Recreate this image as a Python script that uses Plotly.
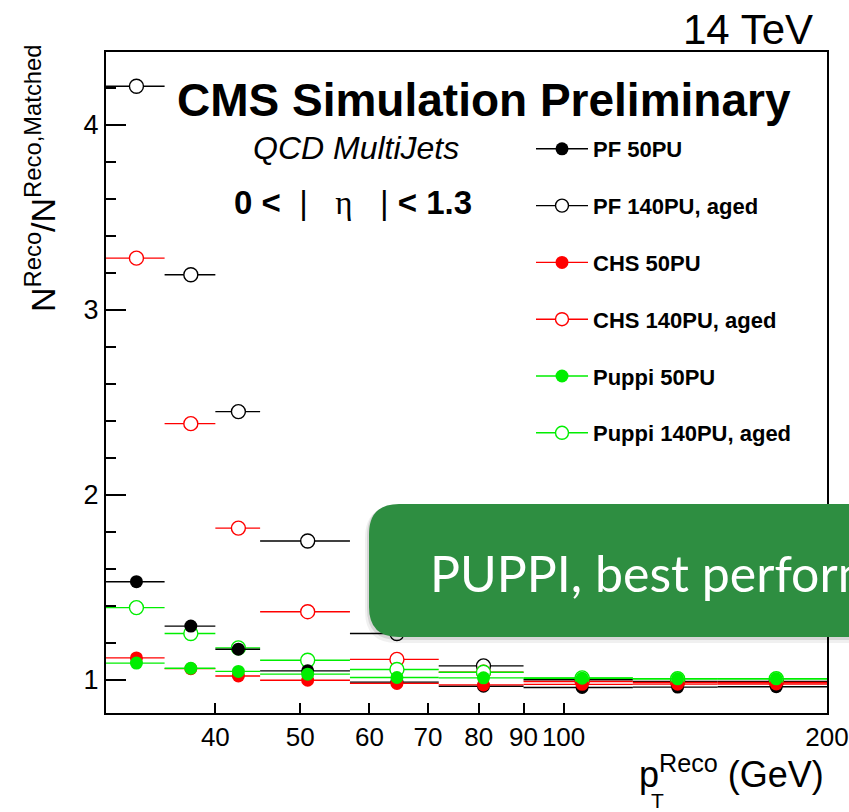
import plotly.graph_objects as go

# pT bin edges (GeV) and bin centres
pt_edges = [30, 35, 40, 45, 57, 72, 90, 120, 150, 200]
pt_center = [32.5, 37.5, 42.5, 51, 64.5, 81, 105, 135, 175]

# N^Reco / N^Reco,Matched per bin
pf_50 = [1.53, 1.29, 1.165, 1.048, 0.987, 0.965, 0.958, 0.96, 0.962]
pf_140 = [4.21, 3.19, 2.45, 1.75, 1.25, 1.075, 1.0, 0.99, 0.99]
chs_50 = [1.118, 1.06, 1.02, 0.997, 0.98, 0.972, 0.975, 0.976, 0.977]
chs_140 = [3.28, 2.385, 1.82, 1.368, 1.11, 1.04, 0.99, 0.985, 0.985]
puppi_50 = [1.09, 1.062, 1.045, 1.03, 1.012, 1.01, 1.008, 1.005, 1.005]
puppi_140 = [1.39, 1.25, 1.172, 1.105, 1.055, 1.04, 1.01, 1.005, 1.005]

x_ticks = [40, 50, 60, 70, 80, 90, 100, 200]

BLACK = "#000000"
RED = "#ff0000"
GREEN = "#00ee00"
FONT = "Liberation Sans, Arial, Helvetica, sans-serif"

err_plus = [hi - c for c, hi in zip(pt_center, pt_edges[1:])]
err_minus = [c - lo for c, lo in zip(pt_center, pt_edges[:-1])]

# (name, values, colour, filled, legend rank)
series = [
    ("PF 140PU, aged", pf_140, BLACK, False, 2),
    ("CHS 140PU, aged", chs_140, RED, False, 4),
    ("Puppi 140PU, aged", puppi_140, GREEN, False, 6),
    ("PF 50PU", pf_50, BLACK, True, 1),
    ("CHS 50PU", chs_50, RED, True, 3),
    ("Puppi 50PU", puppi_50, GREEN, True, 5),
]

fig = go.Figure()

for name, vals, col, filled, rank in series:
    marker = dict(size=13, color=col, line=dict(width=0)) if filled else \
        dict(size=14, color="white", symbol="circle", line=dict(width=1.4, color=col))
    fig.add_trace(go.Scatter(
        x=pt_center, y=vals, mode="markers", name=name, showlegend=False,
        marker=marker,
        error_x=dict(type="data", symmetric=False, array=err_plus, arrayminus=err_minus,
                     color=col, thickness=1.4, width=0),
    ))

# legend entries (line through marker)
for name, vals, col, filled, rank in series:
    marker = dict(size=13, color=col) if filled else \
        dict(size=13, color="white", line=dict(width=1.4, color=col))
    fig.add_trace(go.Scatter(
        x=[None], y=[None], mode="lines+markers", name=f"<b>{name}</b>", legendrank=rank,
        legendgroup=name, line=dict(color=col, width=1.4), marker=marker,
    ))

W, H = 849, 812
L, R, T, B = 106, 22, 52, 99
pw, ph = W - L - R, H - T - B


def px(x):
    return (x - L) / pw


def py(y):
    return (H - B - y) / ph


NB = "\u00a0"
eta_text = (f"<b>0{NB}<</b>{NB * 2}|{NB * 3}<span style='font-family:Liberation Serif'>η</span>"
            f"{NB * 3}|{NB}<b><{NB}1.3</b>")

annotations = [
    dict(text="<b>CMS Simulation Preliminary</b>", x=px(484), y=py(100),
         font=dict(size=46, family=FONT, color="black")),
    dict(text="<i>QCD MultiJets</i>", x=px(356), y=py(148),
         font=dict(size=32, family=FONT, color="black")),
    dict(text=eta_text, x=px(353), y=py(202),
         font=dict(size=33, family=FONT, color="black")),
    dict(text="14 TeV", x=px(815), y=py(30), xanchor="right",
         font=dict(size=42, family=FONT, color="black")),
    dict(text="N<sup>Reco</sup>/N<sup>Reco,Matched</sup>", x=px(40), y=py(178), textangle=-90,
         font=dict(size=34, family=FONT, color="black")),
    dict(text="p<sup>Reco</sup> (GeV)", x=px(826), y=py(772), xanchor="right",
         font=dict(size=36, family=FONT, color="black")),
    dict(text="T", x=px(657), y=py(800),
         font=dict(size=21, family=FONT, color="black")),
    dict(text="PUPPI, best performance", x=px(428), y=py(573), xanchor="left",
         font=dict(size=50, family="Lato, sans-serif", color="white")),
]
for a in annotations:
    a.setdefault("xanchor", "center")
    a.update(xref="paper", yref="paper", yanchor="middle", showarrow=False)


def rounded_box(x0p, x1p, y0p, y1p, r):
    x0, x1 = px(x0p), px(x1p)
    yt, yb = py(y0p), py(y1p)
    rx, ry = r / pw, r / ph
    return (f"M{x0 + rx},{yt} L{x1},{yt} L{x1},{yb} L{x0 + rx},{yb} "
            f"Q{x0},{yb} {x0},{yb + ry} L{x0},{yt - ry} Q{x0},{yt} {x0 + rx},{yt} Z")


shapes = [
    dict(type="path", xref="paper", yref="paper", layer="above",
         path=rounded_box(365, 1000, 506, 643, 32), fillcolor="rgba(0,0,0,0.06)", line=dict(width=0)),
    dict(type="path", xref="paper", yref="paper", layer="above",
         path=rounded_box(367, 1000, 505, 640, 31), fillcolor="rgba(0,0,0,0.10)", line=dict(width=0)),
    dict(type="path", xref="paper", yref="paper", layer="above",
         path=rounded_box(369, 1000, 504, 637, 30), fillcolor="#2e8e41", line=dict(width=0)),
]

fig.update_layout(
    width=W, height=H,
    margin=dict(l=L, r=R, t=T, b=B, autoexpand=False),
    paper_bgcolor="white", plot_bgcolor="white",
    font=dict(family=FONT, color="black"),
    showlegend=True,
    legend=dict(x=px(531), y=py(128), xanchor="left", yanchor="top",
                bgcolor="rgba(0,0,0,0)", itemwidth=52, tracegroupgap=25.2,
                font=dict(size=22, family=FONT, color="black"),
                itemclick=False),
    annotations=annotations,
    shapes=shapes,
    xaxis=dict(type="log", range=[1.4771, 2.30103], tickmode="array", tickvals=x_ticks,
               ticktext=[str(v) for v in x_ticks], ticks="inside", ticklen=10, tickwidth=1.5,
               tickcolor="black", showline=True, linecolor="black", linewidth=2, mirror=True,
               showgrid=False, zeroline=False, tickfont=dict(size=26), automargin=False),
    xaxis2=dict(type="log", range=[1.4771, 2.30103], overlaying="x", anchor="y", side="bottom",
                tickmode="array", tickvals=[100], ticks="inside", ticklen=20, tickwidth=1.5,
                tickcolor="black", showticklabels=False, showgrid=False, zeroline=False,
                showline=False, automargin=False),
    yaxis=dict(range=[0.82, 4.395], tick0=0, dtick=1, ticks="inside", ticklen=20, tickwidth=1.5,
               tickcolor="black", showline=True, linecolor="black", linewidth=2, mirror=True,
               showgrid=False, zeroline=False, tickfont=dict(size=27), automargin=False,
               minor=dict(dtick=0.2, tick0=0, ticks="inside", ticklen=10, tickwidth=1.5,
                          tickcolor="black", showgrid=False)),
)

fig.write_html("out.html")
